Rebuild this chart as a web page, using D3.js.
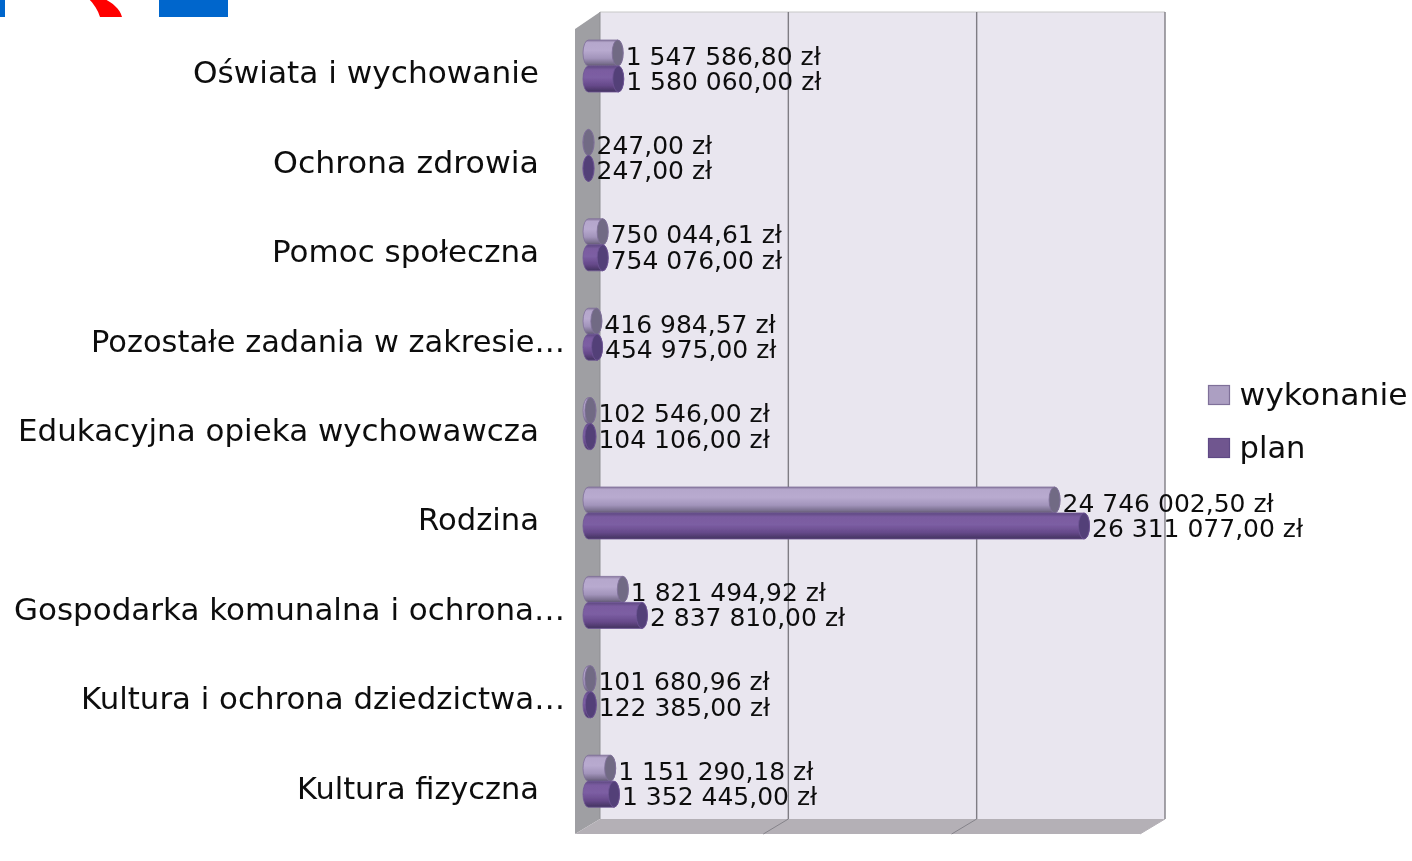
<!DOCTYPE html>
<html><head><meta charset="utf-8">
<script src="https://cdn.jsdelivr.net/npm/d3@7/dist/d3.min.js"></script>
<style>html,body{margin:0;background:#fff;overflow:hidden}text{font-family:"DejaVu Sans",sans-serif;fill:#111}</style>
</head><body><svg id="c" width="1412" height="861"></svg>
<script>
const categories = ["Oświata i wychowanie","Ochrona zdrowia","Pomoc społeczna","Pozostałe zadania w zakresie…","Edukacyjna opieka wychowawcza","Rodzina","Gospodarka komunalna i ochrona…","Kultura i ochrona dziedzictwa…","Kultura fizyczna"];
const wykonanie = [1547586.80,247.00,750044.61,416984.57,102546.00,24746002.50,1821494.92,101680.96,1151290.18];
const plan = [1580060.00,247.00,754076.00,454975.00,104106.00,26311077.00,2837810.00,122385.00,1352445.00];
const wykonanieLabels = ["1 547 586,80 zł","247,00 zł","750 044,61 zł","416 984,57 zł","102 546,00 zł","24 746 002,50 zł","1 821 494,92 zł","101 680,96 zł","1 151 290,18 zł"];
const planLabels = ["1 580 060,00 zł","247,00 zł","754 076,00 zł","454 975,00 zł","104 106,00 zł","26 311 077,00 zł","2 837 810,00 zł","122 385,00 zł","1 352 445,00 zł"];
const seriesNames = ["wykonanie","plan"];
const axisMax = 30000000;
const categoryLabelWidths = [346,266,267,474,521,121,551,484,242];

const root = d3.select("#c");
const defs = root.append("defs");
defs.append("filter").attr("id","soft").attr("filterUnits","userSpaceOnUse")
  .attr("x",0).attr("y",0).attr("width",1412).attr("height",861)
  .append("feGaussianBlur").attr("stdDeviation",0.55);
const svg = root.append("g").attr("filter","url(#soft)");
function grad(id, stops){
  const g = defs.append("linearGradient").attr("id",id).attr("x1",0).attr("y1",0).attr("x2",0).attr("y2",1);
  stops.forEach(s=>g.append("stop").attr("offset",s[0]).attr("stop-color",s[1]));
}
grad("gW",[[0,"#8a7a9f"],[0.1,"#b5a7cc"],[0.4,"#b8aacf"],[0.7,"#a294bb"],[0.9,"#7b7090"],[1,"#5f5870"]]);
grad("gP",[[0,"#5d4880"],[0.15,"#7a5ca0"],[0.45,"#7c5ea3"],[0.75,"#66498a"],[1,"#43325f"]]);

// 3D chart box
const wall = {l:600, r:1165, t:12, b:819}, depth = {x:25, y:15};
svg.append("polygon").attr("points",`${wall.l},${wall.t} ${wall.r},${wall.t} ${wall.r},${wall.b} ${wall.l},${wall.b}`).attr("fill","#e9e6ef");
svg.append("polygon").attr("points",`${wall.l-depth.x},${wall.t+17} ${wall.l},${wall.t} ${wall.l},${wall.b} ${wall.l-depth.x},${wall.b+depth.y}`).attr("fill","#9f9fa3");
svg.append("polygon").attr("points",`${wall.l-depth.x},${wall.b+depth.y} ${wall.l},${wall.b} ${wall.r},${wall.b} ${wall.r-depth.x},${wall.b+depth.y}`).attr("fill","#b4b0b6");
svg.append("line").attr("x1",wall.l).attr("x2",wall.r).attr("y1",wall.t).attr("y2",wall.t).attr("stroke","#c8c8c8");

const xWall = d3.scaleLinear().domain([0,axisMax]).range([wall.l,wall.r]);
const x = d3.scaleLinear().domain([0,axisMax]).range([588.5,588.5+(wall.r-wall.l)]);
const y = d3.scaleBand().domain(categories).range([21.3,825.9]);
const sub = d3.scaleBand().domain(seriesNames).range([0,52]);

xWall.ticks(3).filter(t=>t>0).forEach(t=>{
  const px = xWall(t);
  svg.append("line").attr("x1",px).attr("x2",px).attr("y1",wall.t).attr("y2",wall.b).attr("stroke","#7f7d84").attr("stroke-width",1.4);
  svg.append("line").attr("x1",px).attr("x2",px-depth.x).attr("y1",wall.b).attr("y2",wall.b+depth.y).attr("stroke",t===axisMax?"#b4b0b6":"#85838a");
});
svg.append("line").attr("x1",wall.l).attr("x2",wall.l).attr("y1",wall.t).attr("y2",wall.b).attr("stroke","#8f8f93");

// category labels through an axis
const axisG = svg.append("g").attr("transform","translate(539,7.4)").call(d3.axisLeft(y).tickSize(0).tickPadding(0));
axisG.select(".domain").remove();
axisG.selectAll("text").attr("font-size",31).style("font-family",'"DejaVu Sans",sans-serif').attr("fill","#111")
  .attr("dx",d=>d.endsWith("…")?26:0)
  .attr("textLength",(d,i)=>categoryLabelWidths[i]).attr("lengthAdjust","spacingAndGlyphs");

// cylinders
const rx = 5.5, barH = 26;
const series = [
  {name:"wykonanie",vals:wykonanie,labels:wykonanieLabels,fill:"url(#gW)",cap:"#716b84",edge:"#7f6f99",dy:11.5},
  {name:"plan",vals:plan,labels:planLabels,fill:"url(#gP)",cap:"#533f78",edge:"#6f5596",dy:11}
];
series.forEach(s=>{
  const g = svg.append("g").selectAll("g").data(categories).join("g")
    .attr("transform",d=>`translate(0,${y(d)+y.bandwidth()/2-26+sub(s.name)})`);
  g.each(function(d,i){
    const el = d3.select(this), x0 = x(0), x1 = x(s.vals[i]), h = barH;
    el.append("path").attr("d",`M${x0},0 A${rx},${h/2} 0 0 0 ${x0},${h} L${x1},${h} A${rx},${h/2} 0 0 0 ${x1},0 Z`)
      .attr("fill",s.fill).attr("stroke",s.edge).attr("stroke-width",0.8);
    el.append("ellipse").attr("cx",x1).attr("cy",h/2).attr("rx",rx).attr("ry",h/2).attr("fill",s.cap).attr("stroke",s.edge).attr("stroke-width",0.8);
    el.append("text").attr("x",x1+rx+2.5).attr("y",h/2+s.dy).attr("font-size",25).text(s.labels[i]);
  });
});

// legend
const legendY = d3.scalePoint().domain(seriesNames).range([395,448]);
const legendWidths = [168,66];
series.forEach((s,k)=>{
  const ly = legendY(s.name);
  svg.append("rect").attr("x",1208.5).attr("y",ly-9.5).attr("width",21).attr("height",19)
    .attr("fill",s.name==="plan"?"#70568f":"#ac9fc2").attr("stroke",s.name==="plan"?"#5f4a85":"#7f6f99").attr("stroke-width",1.2);
  svg.append("text").attr("x",1239.5).attr("y",ly+9.5).attr("font-size",31).attr("textLength",legendWidths[k]).attr("lengthAdjust","spacingAndGlyphs").text(s.name);
});

// cropped logo at the top edge
svg.append("rect").attr("x",-3).attr("y",-3).attr("width",8).attr("height",20).attr("fill","#0066cc");
svg.append("rect").attr("x",159).attr("y",-3).attr("width",69).attr("height",20).attr("fill","#0066cc");
svg.append("path").attr("d","M88,-2 L103,-2 C113,3 120,9 122,17 L100,17 C98,10 94,4 88,-2 Z").attr("fill","#ff0000");
</script></body></html>
